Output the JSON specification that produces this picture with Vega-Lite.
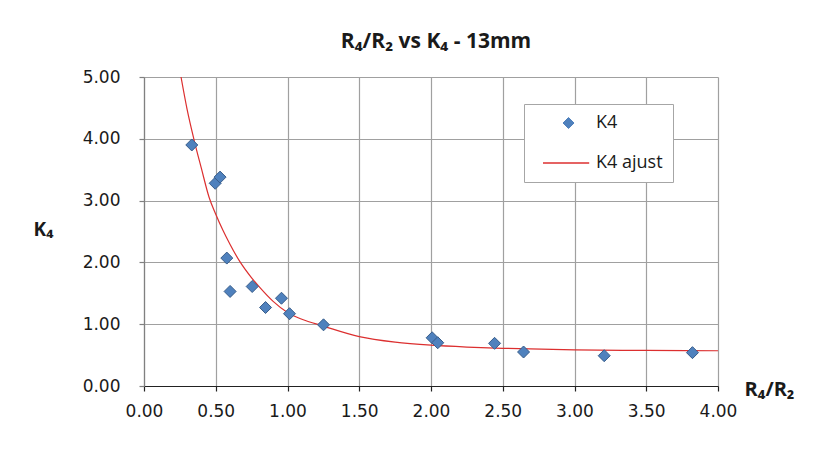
{
  "$schema": "https://vega.github.io/schema/vega-lite/v6.json",
  "width": 574,
  "height": 309,
  "autosize": {"type": "none"},
  "padding": {"left": 144, "top": 77, "right": 98, "bottom": 69},
  "background": "white",
  "title": {
    "text": "R₄/R₂ vs K₄ - 13mm",
    "font": "Open Sans",
    "fontSize": 21,
    "fontWeight": "bold",
    "color": "#1a1a1a",
    "anchor": "middle",
    "offset": 16,
    "dx": 5
  },
  "datasets": {
    "pts": [
      {"x": 0.333, "y": 3.90, "series": "K4"},
      {"x": 0.496, "y": 3.28, "series": "K4"},
      {"x": 0.530, "y": 3.38, "series": "K4"},
      {"x": 0.577, "y": 2.07, "series": "K4"},
      {"x": 0.600, "y": 1.53, "series": "K4"},
      {"x": 0.754, "y": 1.61, "series": "K4"},
      {"x": 0.847, "y": 1.27, "series": "K4"},
      {"x": 0.958, "y": 1.42, "series": "K4"},
      {"x": 1.014, "y": 1.17, "series": "K4"},
      {"x": 1.251, "y": 0.99, "series": "K4"},
      {"x": 2.008, "y": 0.78, "series": "K4"},
      {"x": 2.047, "y": 0.70, "series": "K4"},
      {"x": 2.443, "y": 0.69, "series": "K4"},
      {"x": 2.645, "y": 0.55, "series": "K4"},
      {"x": 3.207, "y": 0.49, "series": "K4"},
      {"x": 3.822, "y": 0.54, "series": "K4"}
    ],
    "fit": [
      {"x": 0.258, "y": 5.00, "series": "K4 ajust"},
      {"x": 0.30, "y": 4.48, "series": "K4 ajust"},
      {"x": 0.347, "y": 4.00, "series": "K4 ajust"},
      {"x": 0.40, "y": 3.52, "series": "K4 ajust"},
      {"x": 0.454, "y": 3.05, "series": "K4 ajust"},
      {"x": 0.50, "y": 2.78, "series": "K4 ajust"},
      {"x": 0.55, "y": 2.52, "series": "K4 ajust"},
      {"x": 0.60, "y": 2.29, "series": "K4 ajust"},
      {"x": 0.666, "y": 2.02, "series": "K4 ajust"},
      {"x": 0.75, "y": 1.75, "series": "K4 ajust"},
      {"x": 0.805, "y": 1.60, "series": "K4 ajust"},
      {"x": 0.90, "y": 1.37, "series": "K4 ajust"},
      {"x": 1.00, "y": 1.19, "series": "K4 ajust"},
      {"x": 1.10, "y": 1.08, "series": "K4 ajust"},
      {"x": 1.25, "y": 0.97, "series": "K4 ajust"},
      {"x": 1.50, "y": 0.80, "series": "K4 ajust"},
      {"x": 1.75, "y": 0.71, "series": "K4 ajust"},
      {"x": 2.00, "y": 0.66, "series": "K4 ajust"},
      {"x": 2.25, "y": 0.63, "series": "K4 ajust"},
      {"x": 2.50, "y": 0.61, "series": "K4 ajust"},
      {"x": 3.00, "y": 0.585, "series": "K4 ajust"},
      {"x": 3.50, "y": 0.575, "series": "K4 ajust"},
      {"x": 4.00, "y": 0.57, "series": "K4 ajust"}
    ]
  },
  "layer": [
    {
      "data": {"name": "fit"},
      "mark": {"type": "line", "strokeWidth": 1.2, "clip": true, "interpolate": "monotone"},
      "encoding": {
        "x": {"field": "x", "type": "quantitative"},
        "y": {"field": "y", "type": "quantitative"},
        "color": {"field": "series", "type": "nominal"}
      }
    },
    {
      "data": {"name": "pts"},
      "mark": {"type": "point", "shape": "diamond", "filled": true, "size": 144, "opacity": 1, "stroke": "#385D8A", "strokeWidth": 1},
      "encoding": {
        "x": {"field": "x", "type": "quantitative"},
        "y": {"field": "y", "type": "quantitative"},
        "color": {"field": "series", "type": "nominal"}
      }
    }
  ],
  "encoding": {
    "x": {
      "field": "x",
      "type": "quantitative",
      "scale": {"domain": [0, 4], "nice": false, "zero": false},
      "axis": {
        "title": "R₄/R₂",
        "titleAngle": 0,
        "titleAlign": "center",
        "titleBaseline": "middle",
        "titleX": 625,
        "titleY": 3,
        "titleFontSize": 20,
        "values": [0, 0.5, 1, 1.5, 2, 2.5, 3, 3.5, 4],
        "format": ".2f",
        "domainColor": "#222222",
        "tickColor": "#222222",
        "tickSize": 5,
        "labelPadding": 12,
        "labelFlush": false
      }
    },
    "y": {
      "field": "y",
      "type": "quantitative",
      "scale": {"domain": [0, 5], "nice": false, "zero": true},
      "axis": {
        "title": "K₄",
        "titleAngle": 0,
        "titleAlign": "center",
        "titleBaseline": "middle",
        "titleX": -101,
        "titleY": 152,
        "values": [0, 1, 2, 3, 4, 5],
        "format": ".2f",
        "domainColor": "#808080",
        "tickColor": "#808080",
        "tickSize": 5,
        "labelPadding": 19
      }
    },
    "color": {
      "field": "series",
      "type": "nominal",
      "scale": {"domain": ["K4", "K4 ajust"], "range": ["#4F81BD", "#DC2F2F"]},
      "legend": {
        "title": null,
        "orient": "none",
        "legendX": 380,
        "legendY": 27,
        "padding": 10,
        "fillColor": "white",
        "strokeColor": "#a6a6a6",
        "symbolSize": 121,
        "labelOffset": 44,
        "rowPadding": 22,
        "labelFont": "Open Sans",
        "labelFontSize": 18,
        "labelColor": "#1a1a1a",
        "labelLimit": 200,
        "encode": {
          "symbols": {
            "update": {
              "shape": {"signal": "datum.value === 'K4' ? 'M3.64,0L4.64,-1L5.64,0L4.64,1Z' : 'M0,0L8.4,0'"},
              "fill": {"signal": "datum.value === 'K4' ? '#4F81BD' : 'transparent'"},
              "stroke": {"signal": "datum.value === 'K4' ? '#385D8A' : '#DC2F2F'"},
              "strokeWidth": {"signal": "datum.value === 'K4' ? 1 : 1.5"},
              "opacity": {"value": 1},
              "size": {"value": 121}
            }
          }
        }
      }
    }
  },
  "config": {
    "view": {"stroke": null},
    "axis": {
      "grid": true,
      "gridColor": "#a0a0a0",
      "gridWidth": 1.2,
      "gridOpacity": 1,
      "labelFont": "DejaVu Sans",
      "labelFontSize": 17,
      "labelColor": "#1a1a1a",
      "titleFont": "Open Sans",
      "titleFontSize": 19,
      "titleFontWeight": "bold",
      "titleColor": "#1a1a1a",
      "domainWidth": 1.2,
      "tickWidth": 1.2
    }
  }
}
